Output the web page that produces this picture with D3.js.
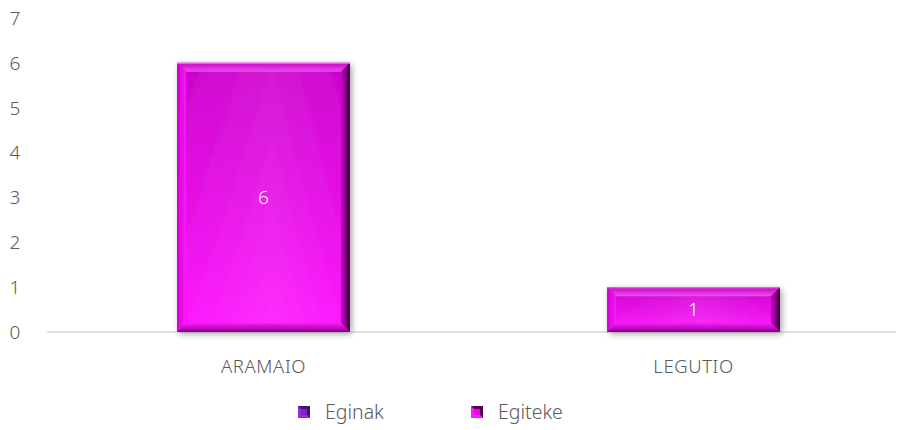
<!DOCTYPE html>
<html>
<head>
<meta charset="utf-8">
<script src="https://cdn.jsdelivr.net/npm/d3@7"></script>
<style>
  html, body { margin: 0; padding: 0; background: #fff; }
  svg { display: block; font-family: "Century Gothic", "Noto Sans", "Open Sans", sans-serif; font-weight: 300; }
</style>
</head>
<body>
<svg id="chart" width="899" height="430"></svg>
<script>
// Chart data
const categories = ["ARAMAIO", "LEGUTIO"];
const seriesNames = ["Eginak", "Egiteke"];
const eginak = [0, 0];
const egiteke = [6, 1];
const yTicks = [0, 1, 2, 3, 4, 5, 6, 7];

const seriesValues = [eginak, egiteke];
const seriesColors = {
  Eginak: { base: "#7a22c8", light: "#a060e8", dark: "#3a0a6a", body0: "#6a18b8", body1: "#8a30e0", edge: "#4a1080" },
  Egiteke: { base: "#ee00ee", light: "#ea50ea", dark: "#3a003a", body0: "#cc00cc", body1: "#ff18ff", edge: "#8a008a" }
};

const svg = d3.select("#chart");

const x = d3.scaleBand().domain(categories).range([48.5, 908.5]).paddingInner(0).paddingOuter(0);
const y = d3.scaleLinear().domain([0, 7]).range([332, 18]);
const barFrac = 0.402;

const table = categories.map((c, i) => {
  const row = { category: c };
  seriesNames.forEach((s, j) => row[s] = seriesValues[j][i]);
  return row;
});
const stacked = d3.stack().keys(seriesNames)(table);

const defs = svg.append("defs");
seriesNames.forEach(s => {
  const col = seriesColors[s];
  const id = s.toLowerCase();
  const g = defs.append("linearGradient").attr("id", "body-" + id).attr("x1", 0).attr("y1", 0).attr("x2", 0).attr("y2", 1);
  g.append("stop").attr("offset", "0%").attr("stop-color", col.body0);
  g.append("stop").attr("offset", "100%").attr("stop-color", col.body1);
  const gh = defs.append("linearGradient").attr("id", "hl-" + id).attr("x1", 0).attr("y1", 0).attr("x2", 1).attr("y2", 0);
  gh.append("stop").attr("offset", "0%").attr("stop-color", "#fff").attr("stop-opacity", 0);
  gh.append("stop").attr("offset", "55%").attr("stop-color", "#fff").attr("stop-opacity", 0.1);
  gh.append("stop").attr("offset", "100%").attr("stop-color", "#fff").attr("stop-opacity", 0);
  const gt = defs.append("linearGradient").attr("id", "top-" + id).attr("x1", 0).attr("y1", 0).attr("x2", 0).attr("y2", 1);
  gt.append("stop").attr("offset", "0%").attr("stop-color", col.body0);
  gt.append("stop").attr("offset", "100%").attr("stop-color", col.light);
  const gr = defs.append("linearGradient").attr("id", "right-" + id).attr("x1", 0).attr("y1", 0).attr("x2", 1).attr("y2", 0);
  gr.append("stop").attr("offset", "0%").attr("stop-color", col.body0);
  gr.append("stop").attr("offset", "100%").attr("stop-color", col.dark);
  const gl = defs.append("linearGradient").attr("id", "left-" + id).attr("x1", 0).attr("y1", 0).attr("x2", 1).attr("y2", 0);
  gl.append("stop").attr("offset", "0%").attr("stop-color", col.body0);
  gl.append("stop").attr("offset", "100%").attr("stop-color", col.body1);
  const gb = defs.append("linearGradient").attr("id", "bottom-" + id).attr("x1", 0).attr("y1", 0).attr("x2", 0).attr("y2", 1);
  gb.append("stop").attr("offset", "0%").attr("stop-color", col.body1);
  gb.append("stop").attr("offset", "100%").attr("stop-color", col.edge);
});
const shadow = defs.append("filter").attr("id", "shadow").attr("x", "-10%").attr("y", "-10%").attr("width", "130%").attr("height", "130%");
shadow.append("feGaussianBlur").attr("in", "SourceAlpha").attr("stdDeviation", 3).attr("result", "b");
shadow.append("feOffset").attr("in", "b").attr("dx", 2).attr("dy", 2).attr("result", "o");
shadow.append("feComponentTransfer").attr("in", "o").attr("result", "s")
  .append("feFuncA").attr("type", "linear").attr("slope", 0.35);
const merge = shadow.append("feMerge");
merge.append("feMergeNode").attr("in", "s");
merge.append("feMergeNode").attr("in", "SourceGraphic");

// Y axis labels
svg.append("g").selectAll("text").data(yTicks).join("text")
  .attr("x", 15).attr("y", d => y(d)).attr("dy", "0.36em")
  .attr("text-anchor", "middle")
  .attr("font-size", 19).attr("fill", "#595959")
  .text(d => d);

// Baseline
svg.append("line").attr("x1", 47).attr("x2", 896).attr("y1", y(0)).attr("y2", y(0))
  .attr("stroke", "#d9d9d9").attr("stroke-width", 1.5);

// Bars with bevelled edges
const bevel = 9;
stacked.forEach(layer => {
  const id = layer.key.toLowerCase();
  layer.forEach((d, i) => {
    const h = y(d[0]) - y(d[1]);
    if (h <= 0) return;
    const bw = x.bandwidth() * barFrac;
    const x0 = x(categories[i]) + (x.bandwidth() - bw) / 2;
    const x1 = x0 + bw;
    const yt = y(d[1]), yb = y(d[0]);
    const b = Math.min(bevel, h / 3);
    const g = svg.append("g").attr("filter", "url(#shadow)");
    g.append("rect").attr("x", x0).attr("y", yt).attr("width", bw).attr("height", h).attr("fill", `url(#body-${id})`);
    g.append("rect").attr("x", x0).attr("y", yt).attr("width", bw).attr("height", h).attr("fill", `url(#hl-${id})`);
    const pts = a => a.map(p => p.join(",")).join(" ");
    g.append("polygon").attr("points", pts([[x0, yt], [x1, yt], [x1 - b, yt + b], [x0 + b, yt + b]])).attr("fill", `url(#top-${id})`);
    g.append("polygon").attr("points", pts([[x0, yt], [x0 + b, yt + b], [x0 + b, yb - b], [x0, yb]])).attr("fill", `url(#left-${id})`).attr("opacity", 0.9);
    g.append("polygon").attr("points", pts([[x1, yt], [x1, yb], [x1 - b, yb - b], [x1 - b, yt + b]])).attr("fill", `url(#right-${id})`);
    g.append("polygon").attr("points", pts([[x0, yb], [x0 + b, yb - b], [x1 - b, yb - b], [x1, yb]])).attr("fill", `url(#bottom-${id})`);
    g.append("rect").attr("x", x0).attr("y", yt).attr("width", bw).attr("height", 1.2).attr("fill", "#f090f0").attr("opacity", 0.7);
    // value label
    svg.append("text")
      .attr("x", (x0 + x1) / 2).attr("y", (yt + yb) / 2).attr("dy", "0.36em")
      .attr("text-anchor", "middle").attr("font-size", 19).attr("fill", "#ffffff")
      .text(d[1] - d[0]);
  });
});

// Category labels
svg.append("g").selectAll("text").data(categories).join("text")
  .attr("x", d => x(d) + x.bandwidth() / 2).attr("y", 366).attr("dy", "0.36em")
  .attr("text-anchor", "middle").attr("font-size", 18.5).attr("letter-spacing", 0.6).attr("fill", "#595959")
  .text(d => d);

// Legend
const legendX = [291, 464];
const leg = svg.append("g").selectAll("g").data(seriesNames).join("g")
  .attr("transform", (d, i) => `translate(${legendX[i]},412)`);
leg.each(function (s) {
  const g = d3.select(this);
  const col = seriesColors[s];
  g.append("rect").attr("x", 7).attr("y", -6).attr("width", 12).attr("height", 12).attr("fill", col.base);
  g.append("polygon").attr("points", "7,-6 19,-6 19,6").attr("fill", col.dark).attr("opacity", 0.85);
  g.append("polygon").attr("points", "7,-6 19,6 7,6").attr("fill", col.body1).attr("opacity", 0.9);
  g.append("rect").attr("x", 10).attr("y", -3).attr("width", 6).attr("height", 6).attr("fill", col.base);
  g.append("text").attr("x", 34).attr("y", 0).attr("dy", "0.36em")
    .attr("font-size", 19.5).attr("fill", "#595959").text(s);
});
</script>
</body>
</html>
